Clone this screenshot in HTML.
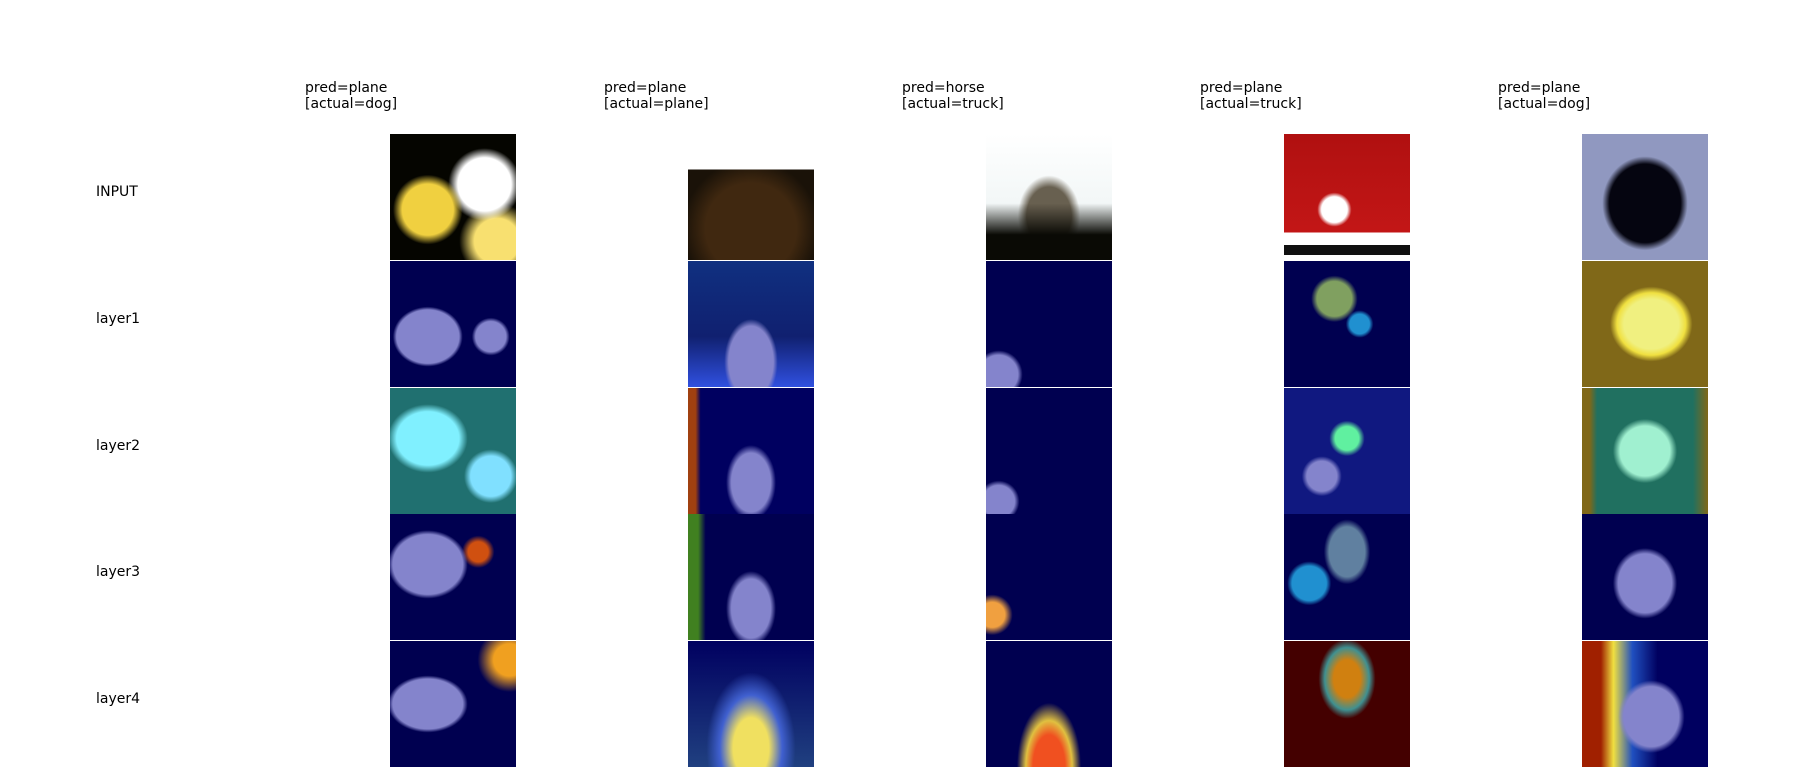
<!DOCTYPE html>
<html><head><meta charset="utf-8"><style>
body{margin:0;width:1800px;height:775px;background:#fff;position:relative;overflow:hidden;font-family:"DejaVu Sans","Liberation Sans",sans-serif;font-size:14px;color:#000}
.t{position:absolute;line-height:16px;white-space:pre}
.r{position:absolute;left:96px}
.c{position:absolute;width:126px;height:126px;overflow:hidden}
</style></head><body>
<div class="t" style="left:305px;top:80px">pred=plane
[actual=dog]</div>
<div class="t" style="left:604px;top:80px">pred=plane
[actual=plane]</div>
<div class="t" style="left:902px;top:80px">pred=horse
[actual=truck]</div>
<div class="t" style="left:1200px;top:80px">pred=plane
[actual=truck]</div>
<div class="t" style="left:1498px;top:80px">pred=plane
[actual=dog]</div>
<div class="r" style="top:184px">INPUT</div>
<div class="r" style="top:311px">layer1</div>
<div class="r" style="top:438px">layer2</div>
<div class="r" style="top:564px">layer3</div>
<div class="r" style="top:691px">layer4</div>
<div id="grid"></div>
<script>
const lefts=[390,688,986,1284,1582];
const tops=[134,261,388,514,641];
const N='#000050',L='#8484cc';
const bgs=[
['radial-gradient(circle at 30% 60%,#f0d040 0 22%,transparent 30%),radial-gradient(circle at 75% 40%,#fff 0 22%,transparent 30%),radial-gradient(circle at 85% 85%,#f8e070 0 15%,transparent 25%),#050500',
 'linear-gradient(180deg,#fff 0 28%,transparent 28%),radial-gradient(circle at 50% 75%,#402810 0 40%,transparent 60%),#1a1208',
 'linear-gradient(180deg,transparent 0 55%,#0a0a05 80%),radial-gradient(ellipse at 50% 65%,#686050 0 25%,transparent 35%),linear-gradient(180deg,#fff,#e8f0f0)',
 'linear-gradient(180deg,transparent 0 78%,#fff 78% 88%,#101010 88% 96%,#fff 96%),radial-gradient(circle at 40% 60%,#fff 0 12%,transparent 16%),linear-gradient(180deg,#b01010,#c81818)',
 'radial-gradient(ellipse at 50% 55%,#050510 0 40%,transparent 48%),#9098c0'],
['radial-gradient(ellipse at 30% 60%,'+L+' 0 25%,transparent 28%),radial-gradient(circle at 80% 60%,'+L+' 0 12%,transparent 15%),'+N,
 'radial-gradient(ellipse at 50% 80%,'+L+' 0 25%,transparent 30%),linear-gradient(180deg,#103080,#102070 60%,#3050e0)',
 'radial-gradient(ellipse at 10% 90%,'+L+' 0 12%,transparent 15%),'+N,
 'radial-gradient(circle at 40% 30%,#80a060 0 15%,transparent 20%),radial-gradient(circle at 60% 50%,#2090d0 0 10%,transparent 14%),'+N,
 'radial-gradient(ellipse at 55% 50%,#f0f080 0 28%,#f0e040 35%,transparent 42%),#806818'],
['radial-gradient(ellipse at 30% 40%,#80f0ff 0 25%,transparent 32%),radial-gradient(circle at 80% 70%,#80e0ff 0 15%,transparent 20%),#207070',
 'linear-gradient(90deg,#a04010 0 6%,transparent 10%),radial-gradient(ellipse at 50% 75%,'+L+' 0 22%,transparent 28%),#000060',
 'radial-gradient(ellipse at 10% 90%,'+L+' 0 10%,transparent 13%),'+N,
 'radial-gradient(circle at 50% 40%,#60f0a0 0 12%,transparent 18%),radial-gradient(circle at 30% 70%,'+L+' 0 12%,transparent 16%),#101880',
 'radial-gradient(ellipse at 50% 50%,#a0f0d0 0 28%,transparent 36%),linear-gradient(90deg,#806818 0 6%,#207060 12% 88%,#806818)'],
['radial-gradient(ellipse at 30% 40%,'+L+' 0 28%,transparent 32%),radial-gradient(circle at 70% 30%,#d05010 0 8%,transparent 13%),'+N,
 'linear-gradient(90deg,#408020 0 8%,transparent 14%),radial-gradient(ellipse at 50% 75%,'+L+' 0 22%,transparent 28%),'+N,
 'radial-gradient(circle at 5% 80%,#f0a040 0 8%,transparent 13%),'+N,
 'radial-gradient(circle at 20% 55%,#2090d0 0 14%,transparent 18%),radial-gradient(ellipse at 50% 30%,#6080a0 0 20%,transparent 26%),'+N,
 'radial-gradient(ellipse at 50% 55%,'+L+' 0 30%,transparent 36%),'+N],
['radial-gradient(ellipse at 30% 50%,'+L+' 0 28%,transparent 32%),radial-gradient(circle at 95% 15%,#f0a020 0 10%,transparent 20%),'+N,
 'radial-gradient(ellipse at 50% 85%,#f0e060 0 20%,#4060d0 35%,transparent 50%),linear-gradient(180deg,#000060,#204080)',
 'radial-gradient(ellipse at 50% 100%,#f05020 0 18%,#e0c040 26%,transparent 36%),'+N,
 'radial-gradient(ellipse at 50% 30%,#d08010 0 15%,#409090 25%,transparent 32%),#440000',
 'radial-gradient(ellipse at 55% 60%,'+L+' 0 28%,transparent 34%),linear-gradient(90deg,#a02000 0 15%,#f0e040 25%,#2050c0 40%,#000060 60%)']
];
const g=document.getElementById('grid');
for(let r=0;r<5;r++)for(let c=0;c<5;c++){
 const d=document.createElement('div');
 d.className='c';
 d.style.left=lefts[c]+'px';d.style.top=tops[r]+'px';
 d.style.background=bgs[r][c];
 
 
 g.appendChild(d);
}
</script>
</body></html>
